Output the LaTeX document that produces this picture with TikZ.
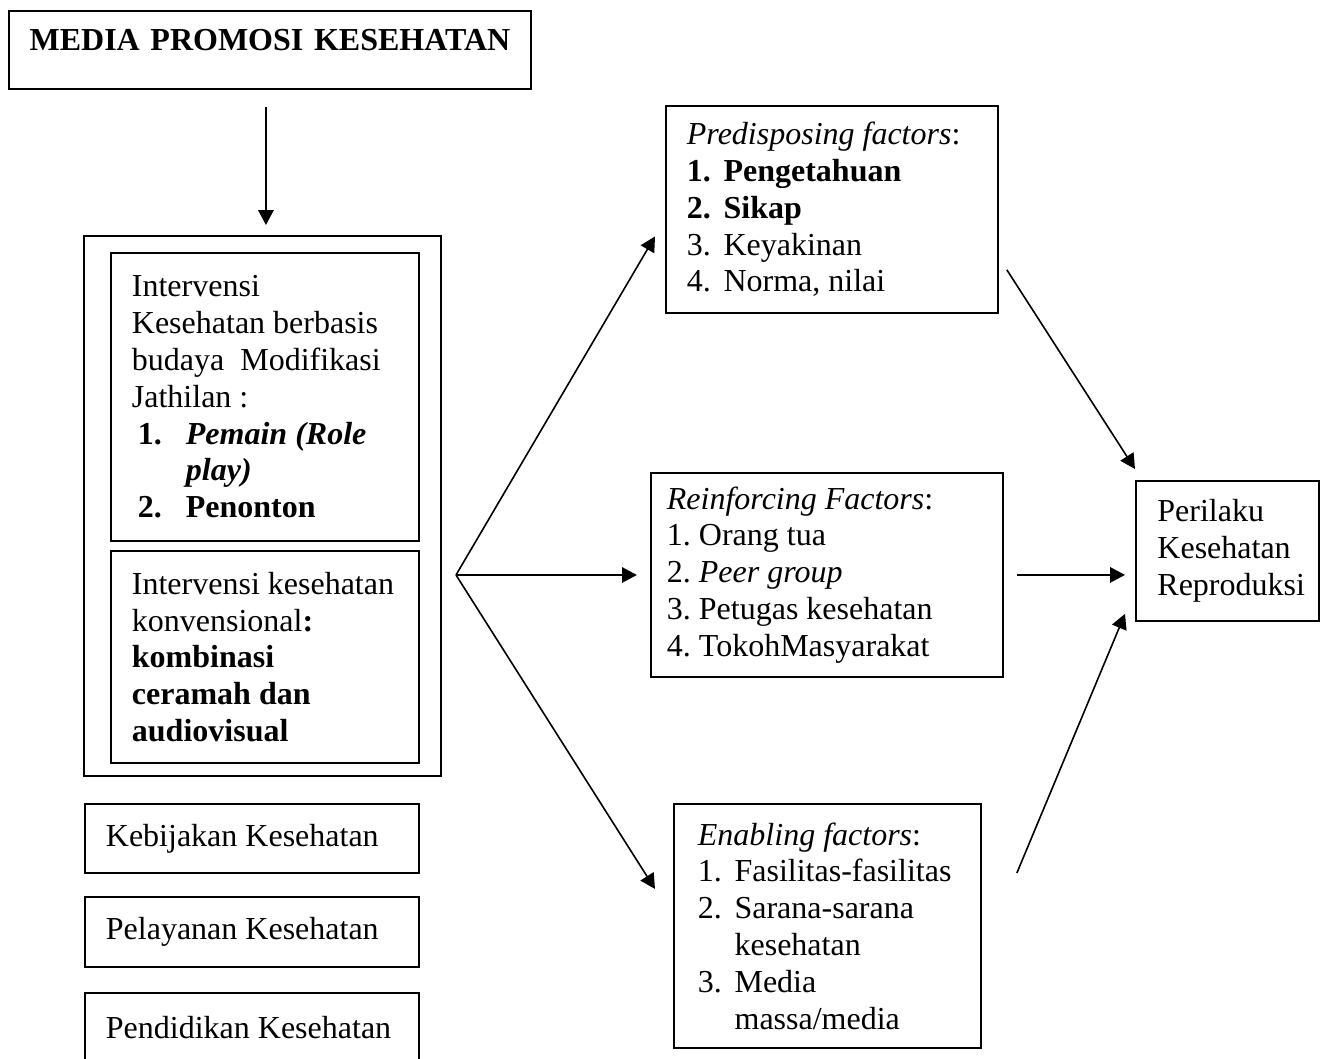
\documentclass[tikz,border=0pt]{standalone}
\usepackage{fontspec}
\setmainfont{Liberation Serif}
\usepackage{tikz}
\usetikzlibrary{arrows.meta}
\newcommand{\itemno}[2]{\makebox[#1][l]{#2}}
\tikzset{
    box/.style={draw, line width=0.7pt, anchor=north west, align=flush left, inner ysep=0pt,
        font=\fontsize{12}{13.8}\selectfont\frenchspacing},
    boxsize/.style n args={4}{minimum width=#1*0.375pt, minimum height=#2*0.375pt,
        inner xsep=#3*0.375pt, text width=#4pt},
    arr/.style={-{Triangle[length=5.6pt, width=5.8pt]}, line width=0.6pt}
}

\begin{document}
\begin{tikzpicture}[x=0.375pt, y=-0.375pt]
    \useasboundingbox (0,0) rectangle (1333,1059);
    \node[box, boxsize={522}{78}{10}{188.25}, align=center, text height=15pt, text depth=14.25pt] (media) at (8,10) {\textbf{MEDIA PROMOSI KESEHATAN}};
    \node[draw, line width=0.7pt, anchor=north west, minimum width=357*0.375pt, minimum height=540*0.375pt] (wrap) at (83,235) {};
    \node[box, boxsize={308}{288}{21}{99.75}] (budaya) at (110,252) {Intervensi\\
        Kesehatan berbasis\\
        budaya\ \ Modifikasi\\
        Jathilan :\\
        \hspace*{2.25pt}\itemno{18pt}{\textbf{1.}}\textbf{\textit{Pemain (Role}}\\
        \hspace*{20.25pt}\textbf{\textit{play)}}\\
        \hspace*{2.25pt}\itemno{18pt}{\textbf{2.}}\textbf{Penonton}};
    \node[box, boxsize={308}{212}{21}{99.75}] (konv) at (110,550) {Intervensi kesehatan\\
        konvensional\textbf{:}\\
        \textbf{kombinasi}\\
        \textbf{ceramah dan}\\
        \textbf{audiovisual}};
    \node[box, boxsize={334}{69}{21}{109.5}] (kebijakan) at (84,803) {Kebijakan Kesehatan};
    \node[box, boxsize={334}{70}{21}{109.5}] (pelayanan) at (84,896) {Pelayanan Kesehatan};
    \node[box, boxsize={334}{70}{21}{109.5}] (pendidikan) at (84,992) {Pendidikan Kesehatan};
    \node[box, boxsize={332}{207}{21}{108.75}] (predis) at (665,105) {\textit{Predisposing factors}:\\
        \textbf{\itemno{13.75pt}{1.}Pengetahuan}\\
        \textbf{\itemno{13.75pt}{2.}Sikap}\\
        \itemno{13.75pt}{3.}Keyakinan\\
        \itemno{13.75pt}{4.}Norma, nilai};
    \node[box, boxsize={352}{204}{16}{120}] (reinf) at (650,472) {\textit{Reinforcing Factors}:\\
        1. Orang tua\\
        2. \textit{Peer group}\\
        3. Petugas kesehatan\\
        4. TokohMasyarakat};
    \node[box, boxsize={307}{244}{24}{97.125}] (enab) at (673,803) {\textit{Enabling factors}:\\
        \itemno{13.75pt}{1.}Fasilitas-fasilitas\\
        \itemno{13.75pt}{2.}Sarana-sarana\\
        \hspace*{13.75pt}kesehatan\\
        \itemno{13.75pt}{3.}Media\\
        \hspace*{13.75pt}massa/media};
    \node[box, boxsize={183}{140}{21}{52.5}] (perilaku) at (1135,480) {Perilaku\\
        Kesehatan\\
        \mbox{Reproduksi}};
    \coordinate (fork) at (456,575);
    \draw[arr] ([shift={(-4,17)}]media.south) -- ([shift={(3.5,-10)}]wrap.north);
    \draw[arr] (fork) -- ([shift={(-10,27)}]predis.west);
    \draw[arr, shorten >=4.9pt] (fork) -- (fork -| reinf.west);
    \draw[arr] (fork) -- ([shift={(-18,-37)}]enab.west);
    \draw[arr] ([shift={(8,-44)}]predis.south east) -- ([shift={(0,-11)}]perilaku.north west);
    \draw[arr, shorten <=4.9pt, shorten >=3.75pt] (reinf.east) -- (reinf.east -| perilaku.west);
    \draw[arr] ([shift={(35,70)}]enab.north east) -- ([shift={(-10,-8)}]perilaku.south west);
\end{tikzpicture}
\end{document}
